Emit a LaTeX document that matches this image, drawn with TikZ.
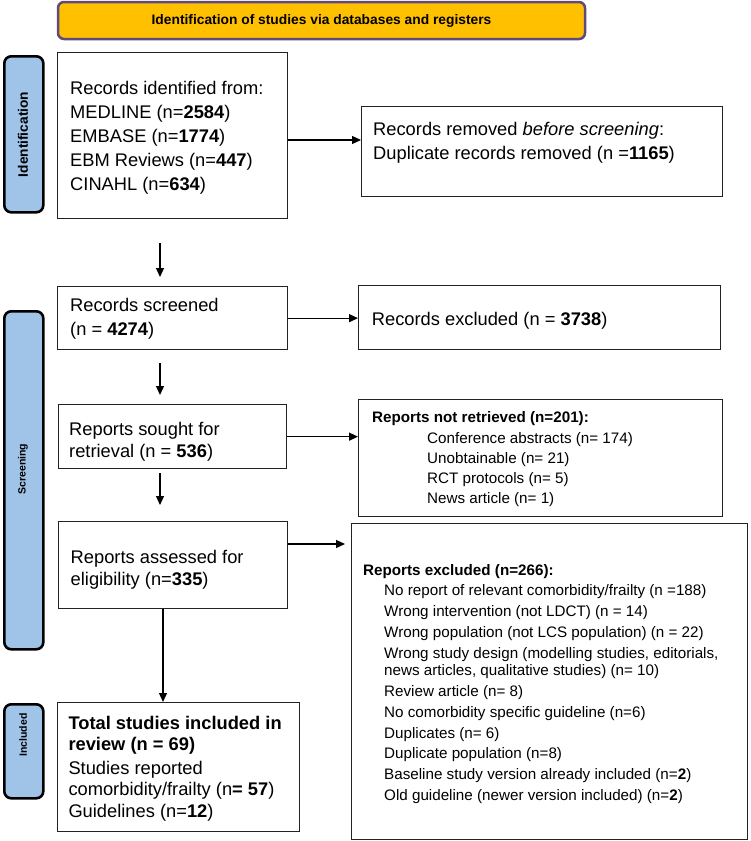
\documentclass[tikz,border=0pt]{standalone}
\usepackage{fontspec}
\setmainfont{Liberation Sans}
\usetikzlibrary{arrows.meta}
\definecolor{bannerfill}{RGB}{255,192,0}
\definecolor{bannerline}{RGB}{96,74,123}
\definecolor{sidefill}{RGB}{160,195,232}
\definecolor{boxline}{RGB}{34,34,34}
\begin{document}
\begin{tikzpicture}[x=1pt,y=-1pt,
  box/.style={draw=boxline, line width=1.3pt, inner sep=0pt, anchor=north west},
  sidebox/.style={draw=black, line width=2.6pt, fill=sidefill, rounded corners=7pt, inner sep=0pt, anchor=north west},
  sidetext/.style={rotate=90, inner sep=0pt, font=\fontsize{10.5}{12}\selectfont\bfseries},
  bigtxt/.style={anchor=north west, inner sep=0pt, align=left, font=\fontsize{18.3}{24}\selectfont},
  smalltxt/.style={anchor=north west, inner sep=0pt, align=left, font=\fontsize{15.2}{20.2}\selectfont},
  arr/.style={-{Triangle[length=9pt,width=8pt]}, line width=1.3pt, draw=black}
]
\path[use as bounding box] (0,0) rectangle (750,841);

% banner
\node[draw=bannerline, line width=2.5pt, fill=bannerfill, rounded corners=6pt,
      minimum width=527pt, minimum height=37pt, inner sep=0pt,
      font=\fontsize{13.8}{16}\selectfont\bfseries] (banner) at (321.5,20.5)
      {Identification of studies via databases and registers};

% side labels
\node[sidebox, minimum width=39pt, minimum height=156pt] (sid) at (3,55) {};
\node[sidetext, font=\fontsize{13.7}{16}\selectfont\bfseries] (sidT) at (23,134.5) {Identification};
\node[sidebox, minimum width=39pt, minimum height=338pt] (sscr) at (3,310) {};
\node[sidetext] (sscrT) at (23,469) {Screening};
\node[sidebox, minimum width=39pt, minimum height=94pt] (sinc) at (3,703) {};
\node[sidetext] (sincT) at (23,735) {Included};

% boxes
\node[box, minimum width=230pt, minimum height=166pt] (id) at (57,52) {};
\node[box, minimum width=361pt, minimum height=90pt] (rem) at (361,106) {};
\node[box, minimum width=230pt, minimum height=63pt] (scr) at (57,286) {};
\node[box, minimum width=362pt, minimum height=64pt] (exc) at (358,285) {};
\node[box, minimum width=228pt, minimum height=64pt] (sou) at (58,404) {};
\node[box, minimum width=364pt, minimum height=117pt] (nr) at (358,399) {};
\node[box, minimum width=229pt, minimum height=87pt] (ass) at (58,521) {};
\node[box, minimum width=396pt, minimum height=316pt] (ex2) at (351,523) {};
\node[box, minimum width=242pt, minimum height=129pt] (inc) at (57,702) {};

% texts
\node[bigtxt] (idT) at (70,77.5) {\strut Records identified from:\\
  MEDLINE (n=\textbf{2584})\\ EMBASE (n=\textbf{1774})\\
  EBM Reviews (n=\textbf{447})\\ CINAHL (n=\textbf{634})};
\node[bigtxt, font=\fontsize{18.3}{24.5}\selectfont] (remT) at (373,117.9)
  {\strut Records removed \textit{before screening}:\\ Duplicate records removed (n =\textbf{1165})};
\node[bigtxt] (scrT) at (70,294.9) {\strut Records screened\\ (n = \textbf{4274})};
\node[bigtxt] (excT) at (371.7,308.2) {\strut Records excluded (n = \textbf{3738})};
\node[bigtxt, font=\fontsize{18.3}{22}\selectfont] (souT) at (69,419.6)
  {\strut Reports sought for\\ retrieval (n = \textbf{536})};
\node[smalltxt] (nrT) at (372,408.6) {\strut\textbf{Reports not retrieved (n=201):}\\
  \hspace*{55pt}Conference abstracts (n= 174)\\
  \hspace*{55pt}Unobtainable (n= 21)\\
  \hspace*{55pt}RCT protocols (n= 5)\\
  \hspace*{55pt}News article (n= 1)};
\node[bigtxt, font=\fontsize{18.3}{21.7}\selectfont] (assT) at (70.5,548.1)
  {\strut Reports assessed for\\ eligibility (n=\textbf{335})};
\node[smalltxt, font=\fontsize{15.2}{17.4}\selectfont] (ex2T) at (363,562.8)
  {\strut\textbf{Reports excluded (n=266):}\\[3.4pt]
  \hspace*{21pt}No report of relevant comorbidity/frailty (n =188)\\[3.4pt]
  \hspace*{21pt}Wrong intervention (not LDCT) (n = 14)\\[3.4pt]
  \hspace*{21pt}Wrong population (not LCS population) (n = 22)\\[3.4pt]
  \hspace*{21pt}Wrong study design (modelling studies, editorials,\\
  \hspace*{21pt}news articles, qualitative studies) (n= 10)\\[3.4pt]
  \hspace*{21pt}Review article (n= 8)\\[3.4pt]
  \hspace*{21pt}No comorbidity specific guideline (n=6)\\[3.4pt]
  \hspace*{21pt}Duplicates (n= 6)\\[3.4pt]
  \hspace*{21pt}Duplicate population (n=8)\\[3.4pt]
  \hspace*{21pt}Baseline study version already included (n=\textbf{2})\\[3.4pt]
  \hspace*{21pt}Old guideline (newer version included) (n=\textbf{2})};
\node[bigtxt, font=\fontsize{18.3}{21}\selectfont] (incT) at (68.3,714.3)
  {\strut\textbf{Total studies included in}\\
   \textbf{review (n = 69)}\\[3pt]
   Studies reported\\
   comorbidity/frailty (n\textbf{= 57})\\[1pt]
   Guidelines (n=\textbf{12})};

% connector coordinates
\coordinate (h1) at (0,140);
\coordinate (h4) at (0,544);
\coordinate (v1) at (160,0);
\coordinate (v4) at (163,0);

% horizontal arrows
\draw[arr] (id.east |- h1) -- (rem.west |- h1);
\draw[arr] (scr.east) -- (exc.west |- scr.east);
\draw[arr] (sou.east) -- (nr.west |- sou.east);
\draw[arr, shorten >=6pt] (ass.east |- h4) -- (ex2.west |- h4);

% vertical arrows
\draw[arr, shorten <=24pt, shorten >=9pt] (v1 |- id.south) -- (v1 |- scr.north);
\draw[arr, shorten <=13pt, shorten >=9pt] (v1 |- scr.south) -- (v1 |- sou.north);
\draw[arr, shorten <=4pt, shorten >=16pt] (v1 |- sou.south) -- (v1 |- ass.north);
\draw[arr] (v4 |- ass.south) -- (v4 |- inc.north);
\end{tikzpicture}
\end{document}
